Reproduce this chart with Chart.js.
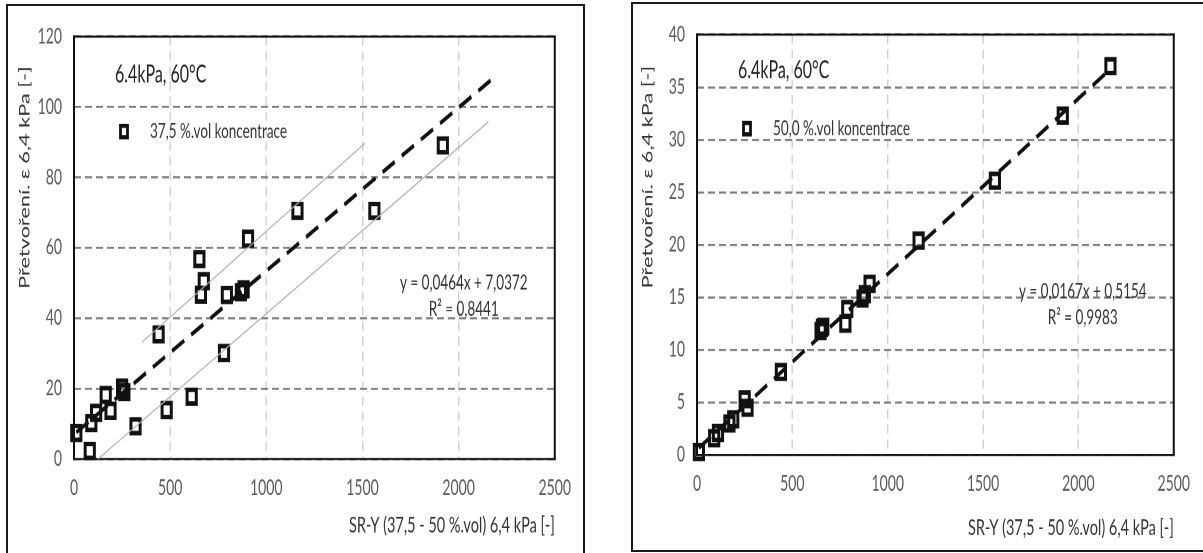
<!DOCTYPE html>
<html>
<head>
<meta charset="utf-8">
<script src="https://cdn.jsdelivr.net/npm/chart.js@4.4.1/dist/chart.umd.min.js"></script>
<style>
  html, body { margin: 0; padding: 0; background: #fff; }
  body { width: 1203px; height: 553px; position: relative; overflow: hidden; }
  .box { position: absolute; border: 2px solid #1c1c1c; }
  /* the panels are drawn tall: everything inside is stretched vertically */
  .stretch { position: absolute; transform: scaleY(1.5); transform-origin: 0 0; }
</style>
</head>
<body>
<div class="box" style="left:6px;top:4px;width:575px;height:560px"></div>
<div class="box" style="left:631px;top:2px;width:600px;height:546px"></div>
<div class="stretch" style="left:8px;top:6px"><canvas id="left" width="574" height="360"></canvas></div>
<div class="stretch" style="left:633px;top:4px"><canvas id="right" width="568" height="363"></canvas></div>

<script>
// SR-Y values and measured strain, 37.5 %.vol
const sryLeft = [12, 82, 90, 115, 165, 190, 250, 262, 320, 440, 482, 612, 652, 660, 675, 780, 795, 868, 882, 905, 1162, 1562, 1918];
const strainLeft = [7.4, 2.3, 10.2, 13.1, 18.2, 13.7, 20.3, 19.0, 9.3, 35.4, 13.9, 17.7, 56.8, 46.7, 50.5, 30.1, 46.6, 47.4, 48.2, 62.6, 70.5, 70.5, 89.1];

// SR-Y values and measured strain, 50.0 %.vol
const sryRight = [10, 90, 110, 170, 190, 250, 265, 440, 648, 655, 662, 778, 788, 868, 880, 905, 1162, 1562, 1918, 2168];
const strainRight = [0.3, 1.6, 2.1, 3.0, 3.4, 5.3, 4.5, 7.9, 11.8, 12.1, 12.2, 12.5, 13.9, 14.9, 15.3, 16.3, 20.4, 26.1, 32.3, 37.0];

// linear trend: [slope, intercept], R², x span of the drawn line
const fitLeft = [0.0464, 7.0372];
const r2Left = 0.8441;
const fitLeftSpan = [12, 2175];
const fitRight = [0.0167, 0.5154];
const r2Right = 0.9983;
const fitRightSpan = [10, 2168];

// thin guide lines around the 37.5 % trend
const bandUpper = [[354, 33.2], [1513, 89.7]];
const bandLower = [[125, 0], [2155, 95.8]];

const xTicks = [0, 500, 1000, 1500, 2000, 2500];
const yTicksLeft = [0, 20, 40, 60, 80, 100, 120];
const yTicksRight = [0, 5, 10, 15, 20, 25, 30, 35, 40];

const seriesNames = ['37,5 %.vol koncentrace', '50,0 %.vol koncentrace'];
const condition = '6.4kPa, 60°C';
const xTitle = 'SR-Y (37,5 - 50 %.vol) 6,4 kPa [-]';
const yTitle = 'Přetvoření. ε 6,4 kPa [-]';

const FONT = "Lato, 'Open Sans', sans-serif";
const comma = (v, d) => v.toFixed(d).replace('.', ',');

// frame, series key, condition text, trend equation and the y title
const notes = {
  id: 'notes',
  beforeDatasetsDraw(chart) {
    const { ctx, chartArea: a } = chart;
    ctx.save();
    ctx.strokeStyle = '#111';
    ctx.lineWidth = 2;
    ctx.beginPath();
    ctx.moveTo(a.left, a.top - 0.7); ctx.lineTo(a.left, a.bottom + 0.7);
    ctx.moveTo(a.right, a.top - 0.7); ctx.lineTo(a.right, a.bottom + 0.7);
    ctx.stroke();
    ctx.lineWidth = 1.35;
    ctx.beginPath();
    ctx.moveTo(a.left - 1, a.top); ctx.lineTo(a.right + 1, a.top);
    ctx.moveTo(a.left - 1, a.bottom); ctx.lineTo(a.right + 1, a.bottom);
    ctx.stroke();
    ctx.restore();
  },
  afterDraw(chart, args, o) {
    const { ctx, chartArea: a } = chart;
    ctx.save();
    ctx.fillStyle = '#222';
    ctx.textBaseline = 'middle';

    ctx.font = `16px ${FONT}`;
    ctx.textAlign = 'left';
    ctx.fillText(condition, a.left + 41, a.top + o.condY);

    // series key
    const ky = a.top + o.keyY;
    ctx.strokeStyle = '#111';
    ctx.lineWidth = 2.8;
    ctx.strokeRect(a.left + 46.5, ky - 3.8, 7, 7.6);
    ctx.font = `13.5px ${FONT}`;
    ctx.fillStyle = '#333';
    ctx.fillText(chart.data.datasets[0].label, a.left + 76, ky);

    // trend equation
    const f = o.fit;
    ctx.textAlign = 'center';
    ctx.fillText(`y = ${comma(f[0], 4)}x + ${comma(f[1], 4)}`, a.right - 91, a.top + o.eqY);
    ctx.fillText(`R² = ${comma(o.r2, 4)}`, a.right - 91, a.top + o.eqY + 17.5);

    // rotated y title, sitting in the upper half of the axis
    ctx.translate(a.left - 49, a.top + o.titleY);
    ctx.rotate(-Math.PI / 2);
    ctx.font = `14.5px ${FONT}`;
    ctx.fillStyle = '#333';
    ctx.fillText(yTitle, 0, 0);
    ctx.restore();
  }
};

function makeChart(id, cfg) {
  const points = cfg.x.map((x, i) => ({ x, y: cfg.y[i] }));
  const trend = cfg.span.map(x => ({ x, y: cfg.fit[0] * x + cfg.fit[1] }));
  const datasets = [{
    label: cfg.name,
    data: points,
    pointStyle: 'rect',
    pointRadius: 6.5,
    pointHoverRadius: 6.5,
    borderColor: '#111',
    backgroundColor: 'rgba(0,0,0,0)',
    borderWidth: 3,
    clip: false,
    order: 2
  }, {
    label: 'trend',
    data: trend,
    showLine: true,
    borderColor: '#111',
    borderWidth: 2.8,
    borderDash: [14, 8],
    pointRadius: 0,
    clip: false,
    order: 0
  }];
  (cfg.bands || []).forEach(b => datasets.push({
    label: 'band',
    data: b.map(p => ({ x: p[0], y: p[1] })),
    showLine: true,
    borderColor: '#b0b0b0',
    borderWidth: 0.9,
    pointRadius: 0,
    clip: false,
    order: 1
  }));

  const canvas = document.getElementById(id);
  const H = canvas.height;
  const tickFont = { family: FONT, size: 14 };
  return new Chart(canvas, {
    type: 'scatter',
    data: { datasets },
    plugins: [notes],
    options: {
      responsive: false,
      devicePixelRatio: 2,
      animation: false,
      events: [],
      layout: { padding: { top: cfg.top, right: cfg.right, left: 0, bottom: 0 } },
      plugins: {
        legend: { display: false },
        tooltip: { enabled: false },
        notes: { fit: cfg.fit, r2: cfg.r2, condY: cfg.condY, keyY: cfg.keyY, eqY: cfg.eqY, titleY: cfg.titleY }
      },
      scales: {
        x: {
          type: 'linear',
          min: 0,
          max: 2500,
          afterBuildTicks: s => { s.ticks = xTicks.map(v => ({ value: v })); },
          ticks: { color: '#595959', font: tickFont, padding: 11, callback: v => String(v) },
          grid: { color: '#d0d0d0', lineWidth: 1.4, drawTicks: false },
          border: { display: false, dash: [6, 4] },
          title: {
            display: true, text: xTitle, align: 'end', color: '#333',
            font: { family: FONT, size: 14.5 }, padding: { top: 0, bottom: 5 }
          },
          afterFit: s => { s.height = H - cfg.bottom; }
        },
        y: {
          type: 'linear',
          min: 0,
          max: cfg.yMax,
          afterBuildTicks: s => { s.ticks = cfg.yTicks.map(v => ({ value: v })); },
          ticks: { color: '#595959', font: tickFont, padding: 12, callback: v => String(v) },
          grid: { color: '#7f7f7f', lineWidth: 1.35, drawTicks: false },
          border: { display: false, dash: [7, 4] },
          afterFit: s => { s.width = cfg.left; }
        }
      }
    }
  });
}

makeChart('left', {
  name: seriesNames[0], x: sryLeft, y: strainLeft, fit: fitLeft, r2: r2Left, span: fitLeftSpan,
  bands: [bandUpper, bandLower], yMax: 120, yTicks: yTicksLeft,
  left: 66, right: 23, top: 13.3, bottom: 302,
  condY: 25.3, keyY: 63.3, eqY: 164, titleY: 94
});

makeChart('right', {
  name: seriesNames[1], x: sryRight, y: strainRight, fit: fitRight, r2: r2Right, span: fitRightSpan,
  yMax: 40, yTicks: yTicksRight,
  left: 64, right: 19, top: 14, bottom: 300.7,
  condY: 24, keyY: 62.7, eqY: 171.3, titleY: 95
});
</script>
</body>
</html>
